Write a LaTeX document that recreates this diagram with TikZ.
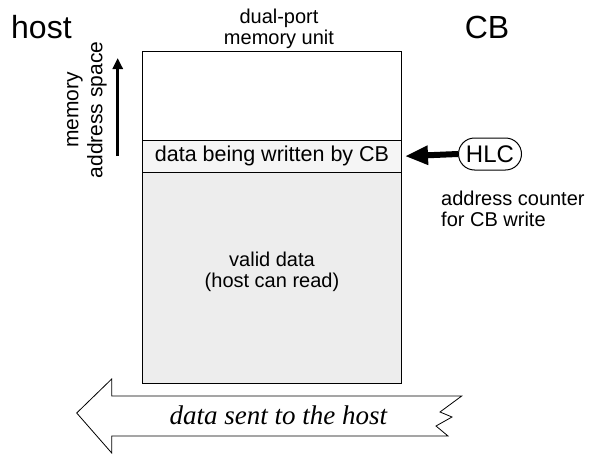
\documentclass[tikz,border=0pt]{standalone}
\usepackage{fontspec}
\setmainfont{Liberation Sans}
\newfontfamily\arrowfont{Liberation Serif}
\usetikzlibrary{shapes.misc}
\usetikzlibrary{arrows.meta}
\definecolor{bandgray}{gray}{0.96}
\definecolor{validgray}{gray}{0.93}
\newcommand{\bigsize}{\fontsize{32}{36}\selectfont}
\newcommand{\labelsize}{\fontsize{20}{21}\selectfont}
\tikzstyle{region}=[draw, line width=1pt, inner sep=0, outer sep=0, minimum width=259.4pt]
\tikzstyle{counter}=[draw, rounded rectangle, line width=1pt, inner sep=0, minimum width=63pt, minimum height=32pt, font=\fontsize{24}{24}\selectfont]
\tikzstyle{caption}=[inner sep=0, align=center, font=\labelsize]
\tikzstyle{memdiagram}=[x=1pt, y=-1pt,
                        % thick arrows
                        writearrow/.style={line width=6pt, -{Triangle[length=23pt, width=18pt]}},
                        addrarrow/.style={line width=3pt, -{Triangle[length=11pt, width=10pt]}}]

\begin{document}
\begin{tikzpicture}[memdiagram]
        \useasboundingbox (0, 0) rectangle (611, 455);
        \node[inner sep=0, anchor=base west, font=\bigsize] (host) at (11, 38) {host};
        \node[inner sep=0, anchor=base, font=\bigsize]      (cb) at (487, 38) {CB};
        \node[caption, anchor=base]                         (unit) at (279, 45) {dual-port\\memory unit};
        \node[region, fill=white, minimum height=89pt]      (free) at (272, 95.5) {};
        \node[region, fill=bandgray, minimum height=32.7pt, font=\fontsize{21.5}{22}\selectfont] (written) at (272, 156.35) {data being written by CB};
        \node[region, fill=validgray, minimum height=210.6pt] (valid) at (272, 278) {};
        \node[caption]                                      (validtext) at (272, 272) {valid data\\(host can read)};
        \node[counter]                                      (hlc) at (490, 154) {HLC};
        \node[caption, align=left, anchor=base west]        (hlcnote) at (441, 226.7) {address counter\\for CB write};
        \node[caption, rotate=90, font=\fontsize{21}{24}\selectfont] (space) at (87, 110) {memory\\address space};
        \coordinate (addrlow) at (117.7, 156);
        \coordinate (addrhigh) at (117.7, 58);
        \draw[addrarrow] (addrlow) -- (addrhigh);
        \draw[writearrow, shorten >=3.3pt] (hlc.west) -- (written.east);
        % outgoing data to the host
        \draw[line width=0.8pt, fill=white, line join=miter]
            (76.7, 413) -- (111.7, 379) -- (111.7, 396) -- (461.7, 396) -- (440, 412) -- (452, 417)
            -- (436, 426) -- (448, 436) -- (111.7, 436) -- (111.7, 453) -- cycle;
        \node[inner sep=0, anchor=base, font=\arrowfont\itshape\fontsize{27}{27}\selectfont] (sent) at (278.3, 424) {data sent to the host};
    \end{tikzpicture}
\end{document}
